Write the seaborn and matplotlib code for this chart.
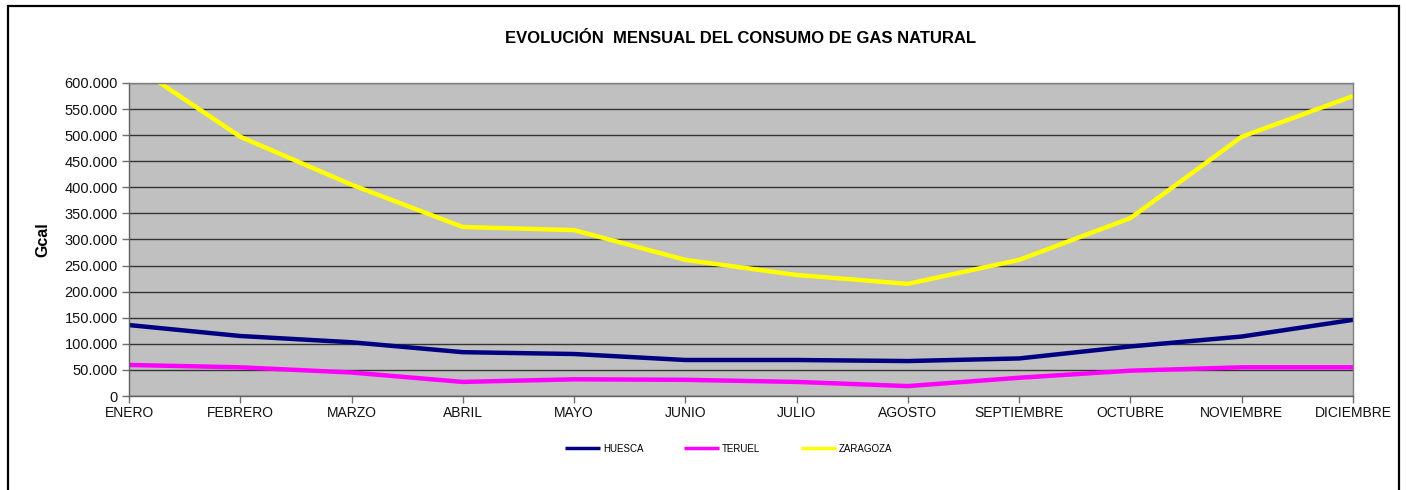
import matplotlib
matplotlib.use("Agg")
import matplotlib.pyplot as plt
import matplotlib.ticker as mticker
from matplotlib.patches import Rectangle
import seaborn as sns
import pandas as pd

months = ["ENERO", "FEBRERO", "MARZO", "ABRIL", "MAYO", "JUNIO", "JULIO",
          "AGOSTO", "SEPTIEMBRE", "OCTUBRE", "NOVIEMBRE", "DICIEMBRE"]
huesca = [136000, 115000, 103000, 84000, 80500, 69000, 69000, 67000, 72000, 95000, 114000, 146000]
teruel = [59500, 55000, 45000, 27000, 32000, 31000, 27000, 19000, 35000, 48500, 55000, 55000]
zaragoza = [640000, 497000, 405000, 324000, 318000, 261000, 232000, 215000, 261000, 341000, 497000, 575000]
series_names = ["HUESCA", "TERUEL", "ZARAGOZA"]
colors = ["#000080", "#FF00FF", "#FFFF00"]
y_ticks = list(range(0, 600001, 50000))

rows = []
for name, vals in zip(series_names, [huesca, teruel, zaragoza]):
    for i, v in enumerate(vals):
        rows.append({"mes": i, "Gcal": v, "serie": name})
df = pd.DataFrame(rows)

sns.set_theme(style="white")
plt.rcParams["font.family"] = ["Liberation Sans", "DejaVu Sans"]
plt.rcParams["text.color"] = "black"
plt.rcParams["axes.labelcolor"] = "black"

fig = plt.figure(figsize=(14.06, 4.90), dpi=100)
ax = fig.add_axes([129 / 1406, 94 / 490, 1224 / 1406, 313 / 490])
ax.set_facecolor("#C0C0C0")

sns.lineplot(data=df, x="mes", y="Gcal", hue="serie", hue_order=series_names,
             palette=colors, linewidth=3.2, ax=ax, legend=True,
             solid_joinstyle="round", solid_capstyle="butt")

ax.set_xlim(0, len(months) - 1)
ax.set_ylim(0, 600000)
ax.set_xticks(range(len(months)))
ax.set_xticklabels(months, fontsize=10, color="#111111")
ax.set_yticks(y_ticks)
ax.yaxis.set_major_formatter(mticker.FuncFormatter(lambda v, p: f"{int(v):,}".replace(",", ".")))
ax.tick_params(axis="y", labelsize=10.5, labelcolor="#111111", length=5, width=1, direction="out", left=True, pad=3)
ax.tick_params(axis="x", length=5, width=1, direction="out", bottom=True, pad=2)
ax.tick_params(axis="both", color="#707070")
ax.yaxis.grid(True, color="#333333", linewidth=1)
ax.xaxis.grid(False)
ax.set_axisbelow(True)
for s in ax.spines.values():
    s.set_visible(True)
    s.set_color("#808080")
    s.set_linewidth(1)
ax.spines["left"].set_color("#606060")
ax.spines["bottom"].set_color("#606060")

ax.set_xlabel("")
ax.set_ylabel("Gcal", fontsize=11.5, fontweight="bold", color="black")
ax.yaxis.set_label_coords(-0.064, 0.5)
ax.set_title("EVOLUCIÓN  MENSUAL DEL CONSUMO DE GAS NATURAL", fontsize=12,
             fontweight="bold", pad=29, color="black")

leg = ax.legend(loc="upper center", bbox_to_anchor=(0.49, -0.125), ncol=3,
                frameon=False, fontsize=7, handlelength=3.6, columnspacing=4.2,
                handletextpad=0.3)
for line in leg.get_lines():
    line.set_linewidth(2.5)

fig.patches.append(Rectangle((8 / 1406, -0.05), 1391 / 1406, 1.05 - 6 / 490,
                             transform=fig.transFigure, fill=False,
                             edgecolor="black", linewidth=1.6))

fig.savefig("out.png", dpi=100, facecolor="white")
